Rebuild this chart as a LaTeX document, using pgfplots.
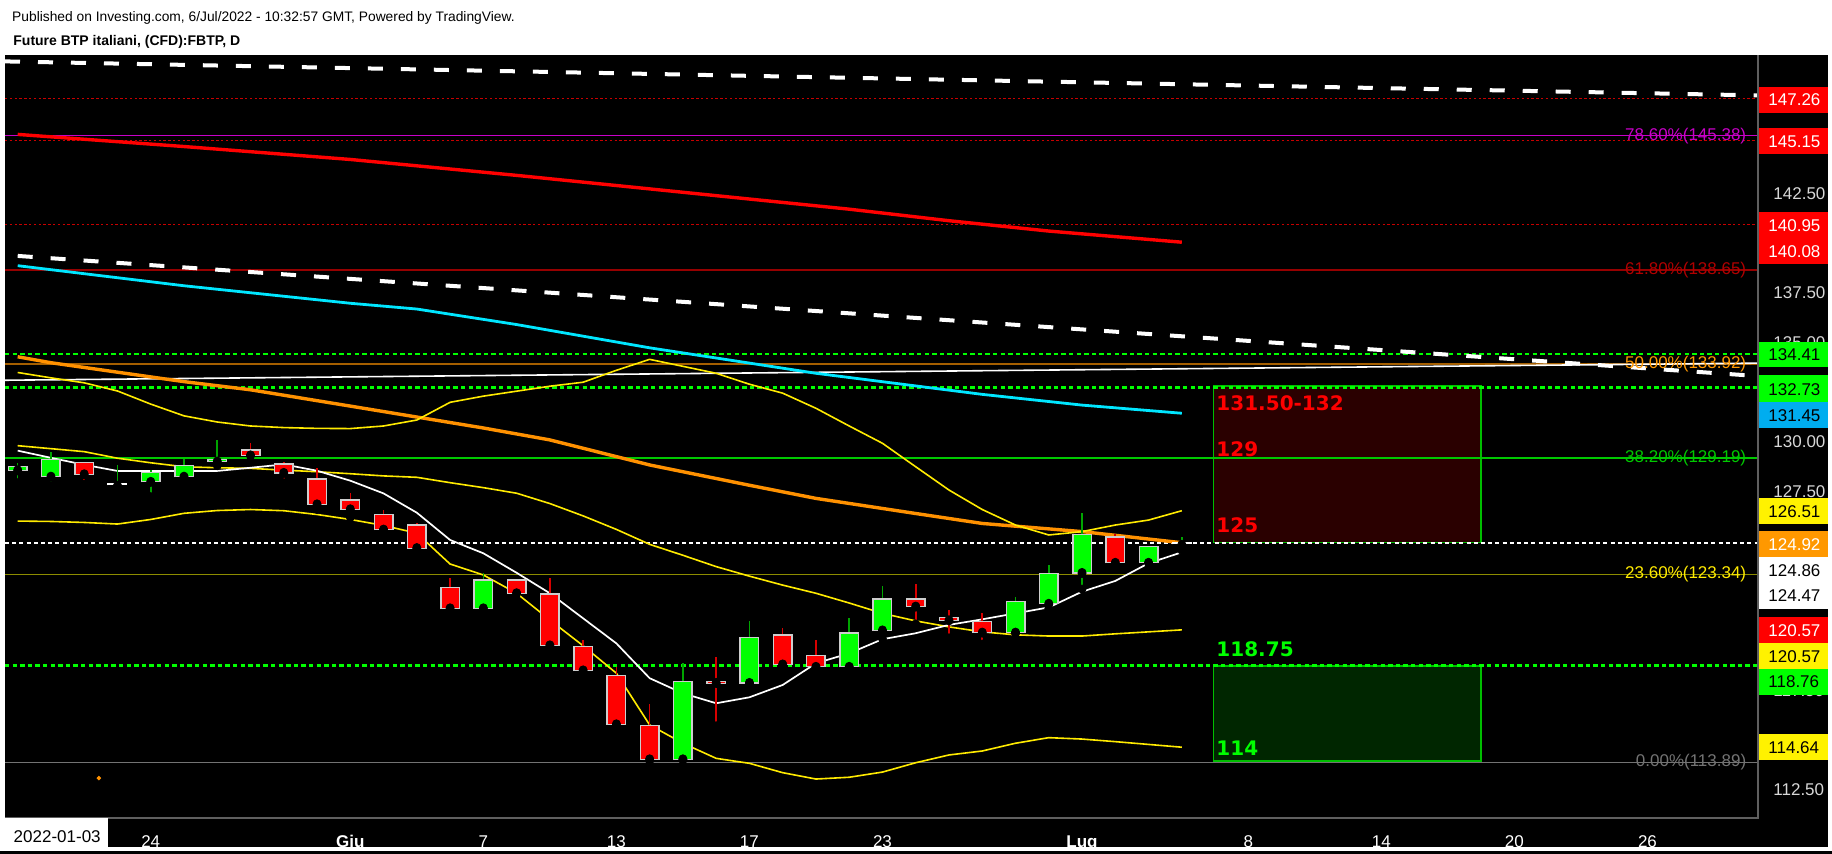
\documentclass[border=0pt]{standalone}
\usepackage{fontspec}
\setmainfont{Liberation Sans}
\newfontfamily\dvs{DejaVu Sans}
\usepackage{pgfplots}
\usepackage{pgfplotstable}
\pgfplotsset{compat=1.18}
\usepgfplotslibrary{fillbetween}

\definecolor{tvred}{RGB}{255,0,0}
\definecolor{tvgreen}{RGB}{0,255,0}
\definecolor{wickred}{RGB}{215,0,0}
\definecolor{wickgreen}{RGB}{0,165,0}
\definecolor{bordergray}{RGB}{205,205,205}
\definecolor{bbnavy}{RGB}{3,3,20}
\definecolor{maorange}{RGB}{255,145,0}
\definecolor{macyan}{RGB}{0,230,255}
\definecolor{bbyellow}{RGB}{255,235,0}
\definecolor{fibmag}{RGB}{200,0,200}
\definecolor{fibdred}{RGB}{150,0,0}
\definecolor{fibdredtxt}{RGB}{175,0,0}
\definecolor{fiborange}{RGB}{165,95,0}
\definecolor{fibgreen}{RGB}{0,200,0}
\definecolor{fibolive}{RGB}{140,140,0}
\definecolor{fibgray}{RGB}{115,115,115}
\definecolor{boxred}{RGB}{42,0,0}
\definecolor{boxgreen}{RGB}{0,38,0}
\definecolor{boxborder}{RGB}{0,190,0}
\definecolor{axisgray}{RGB}{95,95,95}
\definecolor{lblgray}{RGB}{215,215,215}
\definecolor{tagorange}{RGB}{255,152,0}
\definecolor{dotred}{RGB}{200,0,0}

\newcommand\lblfont{\fontsize{8.5}{10}\selectfont}
\newcommand\boxfont{\dvs\bfseries\fontsize{10}{12}\selectfont}

% candles: index (trading day from 18 May 2022), open, high, low, close
\pgfplotstableread{
i o h l c
0 128.54 128.96 127.95 128.80
1 128.22 129.51 127.80 129.13
4 127.96 128.59 127.25 128.49
5 128.22 129.14 128.22 128.86
6 128.98 130.10 128.80 129.14
14 121.60 123.42 121.25 123.09
20 114.01 118.89 114.01 118.00
22 117.85 121.00 117.85 120.19
25 118.66 121.15 118.66 120.42
26 120.49 122.75 120.09 122.13
30 120.38 122.21 120.38 122.00
31 121.83 123.81 121.63 123.43
32 123.38 126.42 122.60 125.38
34 123.89 124.77 123.59 124.77
}\greenc
\pgfplotstableread{
i o h l c
2 128.98 128.98 127.88 128.34
7 129.62 129.95 129.05 129.29
8 128.92 129.00 127.95 128.41
9 128.16 128.67 126.60 126.83
10 127.11 127.41 126.20 126.58
11 126.40 126.58 125.24 125.56
12 125.85 125.90 124.58 124.63
13 122.71 123.17 121.50 121.60
15 123.09 123.09 121.96 122.36
16 122.38 123.17 119.57 119.74
17 119.74 120.04 118.15 118.48
18 118.29 118.69 115.38 115.77
19 115.77 116.82 113.81 114.01
21 118.00 119.20 115.73 117.85
23 120.32 120.65 118.78 118.78
24 119.31 120.04 118.66 118.66
27 122.13 122.86 120.85 121.69
28 121.20 121.55 120.15 121.00
29 121.00 121.39 119.84 120.38
33 125.25 125.37 123.72 123.89
}\redc
\pgfplotstableread{
i o h l c
3 127.87 128.82 127.62 127.87
35 124.90 125.23 124.55 124.90
}\dojic

% Bollinger bands (upper, middle, lower) and short moving average
\pgfplotstableread{
i u m lo w
0 133.49 129.81 126.02 129.56
1 133.22 129.66 126.00 129.20
2 132.97 129.51 125.95 128.85
3 132.56 129.18 125.87 128.54
4 131.90 128.95 126.10 128.54
5 131.31 128.75 126.41 128.54
6 131.00 128.70 126.55 128.54
7 130.80 128.67 126.60 128.70
8 130.72 128.58 126.54 128.87
9 130.68 128.50 126.35 128.55
10 130.67 128.40 126.10 128.05
11 130.80 128.29 125.80 127.41
12 131.10 128.22 125.41 126.44
13 131.99 127.95 123.86 125.07
14 132.30 127.70 123.31 124.40
15 132.55 127.42 122.39 123.42
16 132.80 126.90 121.05 122.39
17 133.00 126.28 119.75 121.13
18 133.60 125.60 118.37 119.87
19 134.15 124.85 115.77 118.12
20 133.80 124.30 114.85 117.36
21 133.45 123.73 114.09 116.86
22 132.90 123.25 113.84 117.16
23 132.45 122.80 113.37 117.78
24 131.69 122.39 113.05 118.87
25 130.80 121.90 113.14 119.37
26 129.93 121.38 113.40 120.08
27 128.75 121.00 113.87 120.38
28 127.58 120.70 114.26 120.80
29 126.60 120.45 114.46 121.08
30 125.82 120.30 114.85 121.38
31 125.32 120.24 115.13 121.68
32 125.49 120.24 115.06 122.47
33 125.82 120.35 114.93 123.01
34 126.07 120.45 114.79 123.90
35 126.54 120.55 114.65 124.45
}\bands

\pgfplotstableread{
i v
0 145.46
5 144.85
10 144.20
15 143.40
20 142.55
25 141.70
28 141.12
31 140.60
35 140.04
}\marred
\pgfplotstableread{
i v
0 138.86
5 137.85
10 136.97
12 136.68
15 135.90
19 134.73
24 133.45
29 132.39
32 131.85
35 131.44
}\macyanT
\pgfplotstableread{
i v
0 134.28
1 133.98
5 133.03
7 132.62
10 131.80
14 130.70
16 130.10
19 128.84
22 127.82
24 127.16
27 126.40
29 125.90
32 125.49
35 124.93
}\maorangeT

\begin{document}
\begin{tikzpicture}
% page background
\fill[white] (-2.5pt,-18.15pt) rectangle (913.5pt,408.85pt);
\fill[black] (0pt,-14.65pt) rectangle (911.5pt,381.35pt);
\fill[black] (-2.5pt,-16.6pt) rectangle (913.5pt,-18.15pt);

\begin{axis}[
  at={(0,0)}, anchor=south west,
  scale only axis, width=876.5pt, height=381.35pt,
  xmin=-0.3818, xmax=52.324, ymin=111.107, ymax=149.453,
  clip=false,
  axis line style={draw=none},
  xtick pos=lower, ytick pos=upper, yticklabel pos=upper,
  tick align=outside, major tick length=2.5pt,
  tick style={draw=axisgray, line width=0.6pt},
  xtick={4,10,14,18,22,26,32,37,41,45,49},
  xticklabels={24,\textbf{Giu},7,13,17,23,\textbf{Lug},8,14,20,26},
  xticklabel style={font=\lblfont, text=white, anchor=base, inner sep=0pt, yshift=-12.2pt},
  ytick={112.5,115,117.5,127.5,130,135,137.5,142.5},
  yticklabel={\pgfmathprintnumber[fixed,fixed zerofill,precision=2,assume math mode=true]{\tick}},
  yticklabel style={font=\lblfont, text=lblgray, anchor=west, inner sep=0pt, xshift=5pt},
]
% Bollinger fill
\addplot[draw=none, name path=U, forget plot] table[x=i,y=u] \bands;
\addplot[draw=none, name path=L, forget plot] table[x=i,y=lo] \bands;
\addplot[fill=bbnavy, draw=none] fill between[of=U and L];

% target boxes
\addplot[fill=boxred, draw=boxborder, line width=0.8pt] coordinates {(35.95,124.95) (43.99,124.95) (43.99,132.81) (35.95,132.81)} -- cycle;
\addplot[fill=boxgreen, draw=boxborder, line width=0.8pt] coordinates {(35.95,113.97) (43.99,113.97) (43.99,118.73) (35.95,118.73)} -- cycle;

% horizontal levels
\addplot[dotred, line width=0.6pt, dash pattern=on 1.2pt off 1.2pt] coordinates {(-0.3818,147.26) (52.324,147.26)};
\addplot[dotred, line width=0.6pt, dash pattern=on 1.2pt off 1.2pt] coordinates {(-0.3818,145.15) (52.324,145.15)};
\addplot[dotred, line width=0.6pt, dash pattern=on 1.2pt off 1.2pt] coordinates {(-0.3818,140.95) (52.324,140.95)};
\addplot[fibmag, line width=0.5pt] coordinates {(-0.3818,145.38) (52.324,145.38)};
\addplot[fibdred, line width=0.8pt] coordinates {(-0.3818,138.65) (52.324,138.65)};
\addplot[fiborange, line width=0.8pt] coordinates {(-0.3818,133.92) (52.324,133.92)};
\addplot[fibgreen, line width=0.6pt] coordinates {(-0.3818,129.19) (52.324,129.19)};
\addplot[fibolive, line width=0.8pt] coordinates {(-0.3818,123.34) (52.324,123.34)};
\addplot[fibgray, line width=0.8pt] coordinates {(-0.3818,113.89) (52.324,113.89)};
\addplot[tvgreen, line width=1.2pt, dash pattern=on 2.2pt off 1.6pt] coordinates {(-0.3818,134.41) (52.324,134.41)};
\addplot[tvgreen, line width=1.2pt, dash pattern=on 2.2pt off 1.6pt] coordinates {(-0.3818,132.73) (52.324,132.73)};
\addplot[tvgreen, line width=1.2pt, dash pattern=on 2.2pt off 1.6pt] coordinates {(-0.3818,118.76) (52.324,118.76)};
\addplot[white, line width=1.1pt, dash pattern=on 2pt off 1.6pt] coordinates {(-0.3818,124.92) (52.324,124.92)};

% trend lines
\addplot[white, line width=2pt, dash pattern=on 7.5pt off 9pt] coordinates {(-0.3818,149.13) (52.324,147.42)};
\addplot[white, line width=2pt, dash pattern=on 7.5pt off 9pt] coordinates {(0,139.35) (52.324,133.31)};
\addplot[white, line width=0.8pt] coordinates {(-0.3818,133.10) (52.324,133.96)};

% moving averages
\addplot[tvred, line width=1.7pt] table[x=i,y=v] \marred;
\addplot[macyan, line width=1.4pt] table[x=i,y=v] \macyanT;
\addplot[maorange, line width=1.7pt] table[x=i,y=v] \maorangeT;
\addplot[bbyellow, line width=0.8pt] table[x=i,y=u] \bands;
\addplot[bbyellow, line width=0.8pt] table[x=i,y=m] \bands;
\addplot[bbyellow, line width=0.8pt] table[x=i,y=lo] \bands;
\addplot[white, line width=0.85pt] table[x=i,y=w] \bands;
\addplot[only marks, mark=*, mark size=0.9pt, color=maorange] coordinates {(2.44,113.1)};

% wicks
\addplot[only marks, mark=none, error bars/.cd, y dir=plus, y explicit, error mark=none,
  error bar style={line width=0.8pt, draw=wickgreen}]
  table[x=i, y=l, y error plus expr=\thisrow{h}-\thisrow{l}] \greenc;
\addplot[only marks, mark=none, error bars/.cd, y dir=plus, y explicit, error mark=none,
  error bar style={line width=0.8pt, draw=wickred}]
  table[x=i, y=l, y error plus expr=\thisrow{h}-\thisrow{l}] \redc;
\addplot[only marks, mark=none, error bars/.cd, y dir=plus, y explicit, error mark=none,
  error bar style={line width=0.8pt, draw=wickgreen}]
  table[x=i, y=l, y error plus expr=\thisrow{h}-\thisrow{l}] \dojic;
% bodies: border then fill
\addplot[only marks, mark=none, error bars/.cd, y dir=plus, y explicit, error mark=none,
  error bar style={line width=10pt, draw=bordergray}]
  table[x=i, y=o, y error plus expr=\thisrow{c}-\thisrow{o}] \greenc;
\addplot[only marks, mark=none, error bars/.cd, y dir=plus, y explicit, error mark=none,
  error bar style={line width=8.5pt, draw=tvgreen}]
  table[x=i, y expr=\thisrow{o}+0.06, y error plus expr=\thisrow{c}-\thisrow{o}-0.12] \greenc;
\addplot[only marks, mark=none, error bars/.cd, y dir=plus, y explicit, error mark=none,
  error bar style={line width=10pt, draw=bordergray}]
  table[x=i, y=c, y error plus expr=\thisrow{o}-\thisrow{c}] \redc;
\addplot[only marks, mark=none, error bars/.cd, y dir=plus, y explicit, error mark=none,
  error bar style={line width=8.5pt, draw=tvred}]
  table[x=i, y expr=\thisrow{c}+0.06, y error plus expr=\thisrow{o}-\thisrow{c}-0.12] \redc;
\addplot[only marks, mark=none, error bars/.cd, y dir=plus, y explicit, error mark=none,
  error bar style={line width=10pt, draw=white}]
  table[x=i, y expr=\thisrow{c}-0.05, y error plus expr=0.1] \dojic;

% axis lines
\draw[axisgray, line width=0.9pt] (rel axis cs:0,0) -- (rel axis cs:1,0) -- (rel axis cs:1,1);

% box texts
\node[anchor=west, inner sep=0pt, font=\boxfont, text=tvred] at (axis cs:36.03,131.94) {131.50-132};
\node[anchor=west, inner sep=0pt, font=\boxfont, text=tvred] at (axis cs:36.03,129.65) {129};
\node[anchor=west, inner sep=0pt, font=\boxfont, text=tvred] at (axis cs:36.03,125.79) {125};
\node[anchor=west, inner sep=0pt, font=\boxfont, text=tvgreen] at (axis cs:36.03,119.57) {118.75};
\node[anchor=west, inner sep=0pt, font=\boxfont, text=tvgreen] at (axis cs:36.03,114.60) {114};

% fib labels
\node[anchor=east, inner sep=0pt, font=\lblfont, text=fibmag] at (axis cs:51.98,145.38) {78.60\%(145.38)};
\node[anchor=east, inner sep=0pt, font=\lblfont, text=fibdredtxt] at (axis cs:51.98,138.65) {61.80\%(138.65)};
\node[anchor=east, inner sep=0pt, font=\lblfont, text=tagorange] at (axis cs:51.98,133.92) {50.00\%(133.92)};
\node[anchor=east, inner sep=0pt, font=\lblfont, text=fibgreen] at (axis cs:51.98,129.19) {38.20\%(129.19)};
\node[anchor=east, inner sep=0pt, font=\lblfont, text=bbyellow] at (axis cs:51.98,123.34) {23.60\%(123.34)};
\node[anchor=east, inner sep=0pt, font=\lblfont, text=fibgray] at (axis cs:51.98,113.89) {0.00\%(113.89)};
\end{axis}

% price tags on the right axis
\fill[tvred] (876.9pt,365.5pt) rectangle (911.5pt,352.5pt);
\fill[tvred] (876.9pt,344.7pt) rectangle (911.5pt,331.7pt);
\fill[tvred] (876.9pt,303.0pt) rectangle (911.5pt,276.85pt);
\fill[tvgreen] (876.9pt,238.0pt) rectangle (911.5pt,225.2pt);
\fill[tvgreen] (876.9pt,221.35pt) rectangle (911.5pt,208.0pt);
\fill[cyan] (876.9pt,208.0pt) rectangle (911.5pt,195.0pt);
\fill[yellow] (876.9pt,160.0pt) rectangle (911.5pt,146.7pt);
\fill[tagorange] (876.9pt,143.5pt) rectangle (911.5pt,130.5pt);
\fill[white] (876.9pt,130.5pt) rectangle (911.5pt,104.2pt);
\fill[tvred] (876.9pt,100.5pt) rectangle (911.5pt,87.5pt);
\fill[yellow] (876.9pt,87.5pt) rectangle (911.5pt,74.2pt);
\fill[tvgreen] (876.9pt,74.2pt) rectangle (911.5pt,61.35pt);
\fill[yellow] (876.9pt,41.7pt) rectangle (911.5pt,28.85pt);
\begin{scope}[every node/.style={anchor=west, inner sep=0pt, font=\lblfont}]
\node[text=white] at (881.5pt,359.0pt) {147.26};
\node[text=white] at (881.5pt,338.2pt) {145.15};
\node[text=white] at (881.5pt,296.0pt) {140.95};
\node[text=white] at (881.5pt,283.0pt) {140.08};
\node[text=black] at (881.5pt,231.35pt) {134.41};
\node[text=black] at (881.5pt,214.2pt) {132.73};
\node[text=black] at (881.5pt,200.85pt) {131.45};
\node[text=black] at (881.5pt,153.0pt) {126.51};
\node[text=white] at (881.5pt,136.35pt) {124.92};
\node[text=black] at (881.5pt,123.5pt) {124.86};
\node[text=black] at (881.5pt,110.85pt) {124.47};
\node[text=white] at (881.5pt,93.5pt) {120.57};
\node[text=black] at (881.5pt,80.5pt) {120.57};
\node[text=black] at (881.5pt,68.0pt) {118.76};
\node[text=black] at (881.5pt,35.2pt) {114.64};
\end{scope}

% date box bottom-left
\fill[white] (0pt,-0.3pt) rectangle (51.5pt,-14.65pt);
\node[anchor=base, inner sep=0pt, font=\lblfont, text=black] at (26.1pt,-12.2pt) {2022-01-03};

% header
\node[anchor=base west, inner sep=0pt, font=\fontsize{6.9}{8}\selectfont] at (3.4pt,397.9pt) {Published on Investing.com, 6/Jul/2022 - 10:32:57 GMT, Powered by TradingView.};
\node[anchor=base west, inner sep=0pt, font=\bfseries\fontsize{7}{8}\selectfont] at (4pt,385.9pt) {Future BTP italiani, (CFD):FBTP, D};

\pgfresetboundingbox
\path[use as bounding box] (-2.5pt,-18.15pt) rectangle (913.5pt,408.85pt);
\end{tikzpicture}
\end{document}
